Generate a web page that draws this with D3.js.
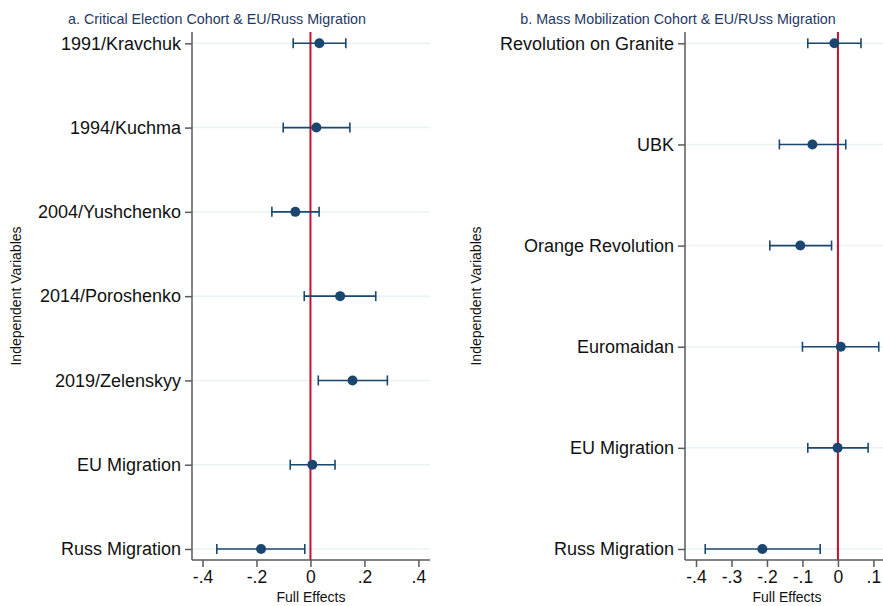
<!DOCTYPE html>
<html><head><meta charset="utf-8">
<script src="https://cdn.jsdelivr.net/npm/d3@7"></script>
<style>body{margin:0;background:#fff}svg{display:block}text{font-family:"Liberation Sans",Arial,Helvetica,sans-serif}</style>
</head><body><svg id="c" width="883" height="606"></svg>
<script>
// Panel a
const catsA = ["1991/Kravchuk","1994/Kuchma","2004/Yushchenko","2014/Poroshenko","2019/Zelenskyy","EU Migration","Russ Migration"];
const estA  = [0.033, 0.022, -0.056, 0.110, 0.156, 0.007, -0.183];
const lowA  = [-0.064, -0.101, -0.143, -0.023, 0.029, -0.075, -0.347];
const highA = [0.131, 0.146, 0.032, 0.242, 0.285, 0.091, -0.021];
const ticksA = [-0.4, -0.2, 0, 0.2, 0.4];
const tickLabelsA = ["-.4","-.2","0",".2",".4"];
const titleA = "a. Critical Election Cohort & EU/Russ Migration";
// Panel b
const catsB = ["Revolution on Granite","UBK","Orange Revolution","Euromaidan","EU Migration","Russ Migration"];
const estB  = [-0.010, -0.072, -0.106, 0.008, -0.001, -0.213];
const lowB  = [-0.085, -0.165, -0.192, -0.100, -0.085, -0.374];
const highB = [0.065, 0.022, -0.018, 0.115, 0.085, -0.050];
const ticksB = [-0.4, -0.3, -0.2, -0.1, 0, 0.1];
const tickLabelsB = ["-.4","-.3","-.2","-.1","0",".1"];
const titleB = "b. Mass Mobilization Cohort & EU/RUss Migration";
const xTitle = "Full Effects";
const yTitle = "Independent Variables";

const svg = d3.select("#c");
const navy = "#1a476f", axisCol = "#5a5a5a", grid = "#eaf2f3", red = "#c8102e";

function panel(cfg){
  const {cats, est, low, high, ticks, labels, title, x0, x1, dom, titleX, yTitleX} = cfg;
  const top = 32, bottom = 560;
  const x = d3.scaleLinear().domain(dom).range([x0, x1]);
  const y = d3.scalePoint().domain(cats).range([43.3, 549]);
  const g = svg.append("g");
  g.selectAll(".gl").data(cats).join("line")
    .attr("x1", x0).attr("x2", x1).attr("y1", d=>y(d)).attr("y2", d=>y(d))
    .attr("stroke", grid).attr("stroke-width", 1.5);
  g.append("line").attr("x1", x(0)).attr("x2", x(0)).attr("y1", top).attr("y2", bottom)
    .attr("stroke", red).attr("stroke-width", 2);
  const ya = d3.axisLeft(y).tickSize(7).tickPadding(4);
  const yg = g.append("g").attr("transform", `translate(${x0},0)`).call(ya);
  yg.select(".domain").attr("d", `M-0,${top}V${bottom}`).attr("stroke", axisCol).attr("stroke-width", 1.5);
  yg.selectAll(".tick line").attr("stroke", axisCol).attr("stroke-width", 1.5);
  yg.selectAll(".tick text").attr("font-size", 18).attr("fill", "#111")
    .attr("font-family", '"Liberation Sans",Arial,sans-serif');
  const xa = d3.axisBottom(x).tickValues(ticks).tickSize(7).tickPadding(4).tickFormat((d,i)=>labels[i]);
  const xg = g.append("g").attr("transform", `translate(0,${bottom})`).call(xa);
  xg.select(".domain").attr("d", `M${x0},0H${x1}`).attr("stroke", axisCol).attr("stroke-width", 1.5);
  xg.selectAll(".tick line").attr("stroke", axisCol).attr("stroke-width", 1.5);
  xg.selectAll(".tick text").attr("font-size", 17.5).attr("fill", "#111")
    .attr("font-family", '"Liberation Sans",Arial,sans-serif');
  const rows = cats.map((c,i)=>({c, e:est[i], l:low[i], h:high[i]}));
  const eb = g.selectAll(".eb").data(rows).join("g");
  eb.append("line").attr("x1", d=>x(d.l)).attr("x2", d=>x(d.h)).attr("y1", d=>y(d.c)).attr("y2", d=>y(d.c))
    .attr("stroke", navy).attr("stroke-width", 1.6);
  eb.append("line").attr("x1", d=>x(d.l)).attr("x2", d=>x(d.l)).attr("y1", d=>y(d.c)-5).attr("y2", d=>y(d.c)+5)
    .attr("stroke", navy).attr("stroke-width", 1.6);
  eb.append("line").attr("x1", d=>x(d.h)).attr("x2", d=>x(d.h)).attr("y1", d=>y(d.c)-5).attr("y2", d=>y(d.c)+5)
    .attr("stroke", navy).attr("stroke-width", 1.6);
  eb.append("circle").attr("cx", d=>x(d.e)).attr("cy", d=>y(d.c)).attr("r", 5).attr("fill", navy);
  g.append("text").attr("x", titleX).attr("y", 24).attr("text-anchor","middle")
    .attr("font-size", 14.3).attr("fill", "#1f3864").text(title);
  g.append("text").attr("x", cfg.xTitleX).attr("y", 602).attr("text-anchor","middle")
    .attr("font-size", 14).attr("fill", "#111").text(xTitle);
  g.append("text").attr("transform", `translate(${yTitleX},296) rotate(-90)`).attr("text-anchor","middle")
    .attr("dominant-baseline","central").attr("font-size", 14).attr("fill", "#111").text(yTitle);
}

panel({cats:catsA, est:estA, low:lowA, high:highA, ticks:ticksA, labels:tickLabelsA, title:titleA,
  x0:192, x1:430, dom:[-0.439, 0.443], titleX:217, yTitleX:16, xTitleX:311});
panel({cats:catsB, est:estB, low:lowB, high:highB, ticks:ticksB, labels:tickLabelsB, title:titleB,
  x0:685, x1:883, dom:[-0.431, 0.127], titleX:678, yTitleX:476, xTitleX:787});
</script></body></html>
